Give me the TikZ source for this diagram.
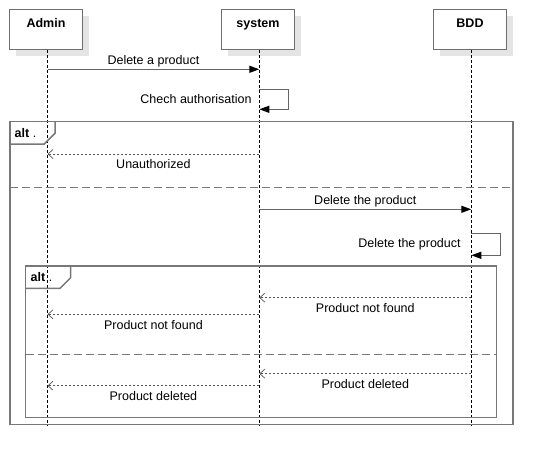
\documentclass[tikz,border=0pt]{standalone}
\usepackage{fontspec}
\setmainfont{Liberation Sans}
\usetikzlibrary{arrows.meta,calc}
\definecolor{framegray}{HTML}{787878}
\definecolor{boxgray}{HTML}{6E6E6E}
\definecolor{shadowgray}{HTML}{E4E4E4}
\definecolor{msggray}{HTML}{666666}
\definecolor{retgray}{HTML}{555555}
\begin{document}
\begin{tikzpicture}[x=1pt,y=-1pt,
  participant/.style={draw=boxgray, line width=1.3pt, fill=white, minimum width=73pt, minimum height=40pt, inner sep=0pt,
    font=\fontsize{12.5}{14}\selectfont\bfseries, text height=9pt, text depth=12pt},
  boxshadow/.style={fill=shadowgray},
  lifeline/.style={black, line width=0.8pt, dash pattern=on 3pt off 2pt},
  msg/.style={msggray, line width=1.3pt, -{Triangle[length=10pt,width=7pt,color=black]}},
  ret/.style={retgray, line width=1pt, dash pattern=on 2pt off 2pt, -{Straight Barb[length=5pt,width=9pt,line width=0.7pt]}},
  msglabel/.style={font=\fontsize{12.5}{14}\selectfont, text=black, inner sep=0pt, text height=9pt, text depth=2.5pt},
  frame/.style={framegray, line width=1.5pt},
  sepline/.style={framegray, line width=1.5pt, dash pattern=on 8pt off 4pt},
  tagtext/.style={font=\fontsize{12.5}{14}\selectfont, text=black, inner sep=0pt, anchor=west}
]
\useasboundingbox (0,0) rectangle (553,466);

% lifeline ends
\coordinate (adminend) at (47.5,425);
\coordinate (systemend) at (259.3,425);
\coordinate (bddend) at (471.3,425);

% shadows
\fill[boxshadow] (16,16) rectangle (89,55.5);
\fill[boxshadow] (228,16) rectangle (301,55.5);
\fill[boxshadow] (440,16) rectangle (513,55.5);

% participants
\node[participant] (admin) at (46,29.3) {Admin};
\node[participant] (system) at (258,29.3) {system};
\node[participant] (bdd) at (470,29.3) {BDD};

\draw[lifeline] (adminend |- admin.south) -- (adminend);
\draw[lifeline] (systemend |- system.south) -- (systemend);
\draw[lifeline] (bddend |- bdd.south) -- (bddend);

% frames
\draw[frame] (10,121.7) rectangle (513,424.3);
\draw[frame] (10,144) -- (44.3,144) -- (55,133.3) -- (55,121.7);
\node[tagtext] (alt1) at (14.5,133) {\textbf{alt} .};
\draw[sepline] (10,187.3) -- (513,187.3);

\draw[frame] (25.7,266) rectangle (496.7,417.7);
\draw[frame] (25.7,288.3) -- (60,288.3) -- (70.7,277.7) -- (70.7,266);
\node[tagtext] (alt2) at (30.5,277.5) {\textbf{alt} .};
\draw[sepline] (25.7,354.7) -- (496.7,354.7);

% message anchor points
\coordinate (a1) at (47.5,69.3);  \coordinate (s1) at (259.3,69.3);
\coordinate (s2a) at (259.3,89.3); \coordinate (s2b) at (259.3,109.3);
\coordinate (s3) at (259.3,154);  \coordinate (a3) at (47.5,154);
\coordinate (s4) at (259.3,209.3); \coordinate (b4) at (471.3,209.3);
\coordinate (b5a) at (471.3,233.3); \coordinate (b5b) at (471.3,255.3);
\coordinate (b6) at (471.3,297.7); \coordinate (s6) at (259.3,297.7);
\coordinate (s7) at (259.3,314.3); \coordinate (a7) at (47.5,314.3);
\coordinate (b8) at (471.3,373.7); \coordinate (s8) at (259.3,373.7);
\coordinate (s9) at (259.3,385.7); \coordinate (a9) at (47.5,385.7);

% messages
\draw[msg] (a1) -- (s1) node[msglabel, midway, yshift=8pt] (l1) {Delete a product};
\draw[msg] (s2a) -- ++(29.4,0) |- (s2b);
\node[msglabel, anchor=east] (l2) at ($(s2a)!0.5!(s2b)+(-7.5,1)$) {Chech authorisation};
\draw[ret] (s3) -- (a3) node[msglabel, midway, yshift=-11pt] (l3) {Unauthorized};
\draw[msg] (s4) -- (b4) node[msglabel, midway, yshift=8pt] (l4) {Delete the product};
\draw[msg] (b5a) -- ++(29.4,0) |- (b5b);
\node[msglabel, anchor=east] (l5) at ($(b5a)!0.45!(b5b)+(-10.5,1)$) {Delete the product};
\draw[ret] (b6) -- (s6) node[msglabel, midway, yshift=-12pt] (l6) {Product not found};
\draw[ret] (s7) -- (a7) node[msglabel, midway, yshift=-11.5pt] (l7) {Product not found};
\draw[ret] (b8) -- (s8) node[msglabel, midway, yshift=-11.5pt] (l8) {Product deleted};
\draw[ret] (s9) -- (a9) node[msglabel, midway, yshift=-11.5pt] (l9) {Product deleted};
\end{tikzpicture}
\end{document}
